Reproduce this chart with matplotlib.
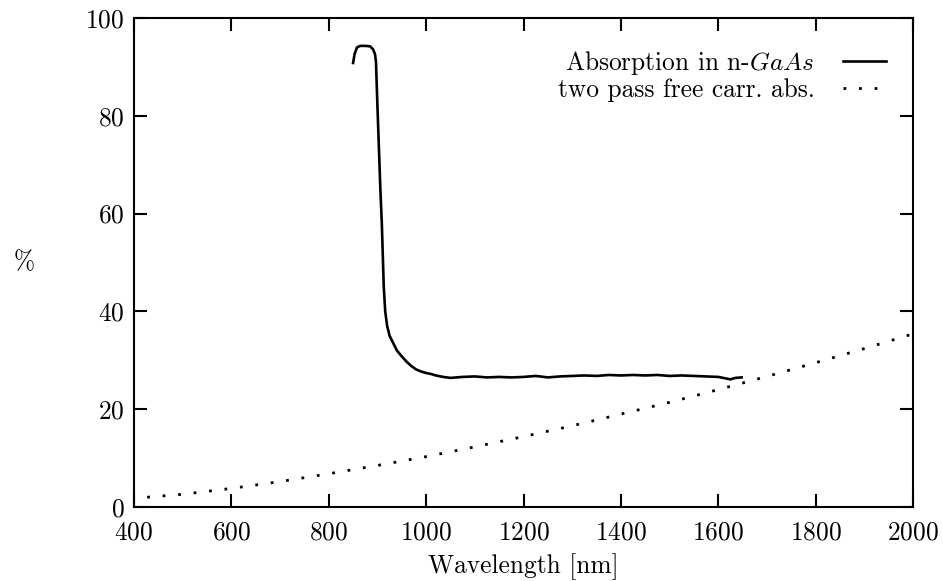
import numpy as np
import matplotlib
matplotlib.use("Agg")
import matplotlib.pyplot as plt

plt.rcParams['font.family'] = 'cmr10'
plt.rcParams['mathtext.fontset'] = 'cm'
plt.rcParams['axes.formatter.use_mathtext'] = True
plt.rcParams['font.size'] = 18.3

wl_abs = [850, 853, 858, 865, 875, 885, 891, 895, 897, 900, 903, 906, 909,
          913, 916, 920, 925, 930, 940, 950, 960, 970, 980, 990, 1000,
          1010, 1020, 1035, 1050, 1075, 1100, 1125, 1150, 1175, 1200,
          1225, 1250, 1275, 1300, 1325, 1350, 1375, 1400, 1425, 1450,
          1475, 1500, 1525, 1550, 1575, 1600, 1615, 1625, 1635, 1648]
abs_pct = [90.8, 92.6, 94.0, 94.3, 94.3, 94.2, 93.6, 92.6, 91.0, 82.0,
           73.5, 65.0, 58.0, 45.0, 40.0, 37.0, 35.0, 34.0, 32.0, 30.8,
           29.7, 28.8, 28.1, 27.7, 27.4, 27.2, 26.9, 26.6, 26.4, 26.6,
           26.7, 26.5, 26.6, 26.5, 26.6, 26.8, 26.5, 26.7, 26.8, 26.9,
           26.8, 27.0, 26.9, 27.0, 26.9, 27.0, 26.8, 26.9, 26.8, 26.7,
           26.6, 26.3, 26.1, 26.4, 26.5]

# two pass free carrier absorption
wl_fc = [427, 500, 600, 700, 800, 900, 1000, 1100, 1200, 1300, 1400,
         1500, 1600, 1700, 1800, 1900, 2000]
fc_pct = [2.0, 2.6, 3.8, 5.2, 6.8, 8.5, 10.3, 12.3, 14.4, 16.6, 19.0,
          21.4, 24.0, 26.7, 29.5, 32.4, 35.4]

xticks = [400, 600, 800, 1000, 1200, 1400, 1600, 1800, 2000]
yticks = [0, 20, 40, 60, 80, 100]

fig = plt.figure(figsize=(9.43, 5.81), dpi=100)
ax = fig.add_axes([134/943, 74/581, (913-134)/943, (507-18)/581])

ax.plot(wl_abs, abs_pct, color='black', lw=1.9, label=r'Absorption in n-$GaAs$')
ax.plot(wl_fc, fc_pct, color='black', lw=2.0, dashes=(1, 4.6),
        dash_capstyle='butt', label='two pass free carr. abs.')

ax.set_xlim(400, 2000)
ax.set_ylim(0, 100)
ax.set_xticks(xticks)
ax.set_yticks(yticks)
ax.tick_params(direction='in', length=9.5, width=1.5, top=True, right=True)
ax.tick_params(axis='x', pad=10)
ax.tick_params(axis='y', pad=7)
for s in ax.spines.values():
    s.set_linewidth(1.5)

ax.set_xlabel('Wavelength [nm]', labelpad=6)
ax.set_ylabel('%', rotation=0, labelpad=44, va='center')

ax.legend(loc='upper right', bbox_to_anchor=(0.965, 0.937), frameon=False,
          markerfirst=False, handlelength=1.7, handletextpad=1.1,
          labelspacing=0.06, borderpad=0, borderaxespad=0)

fig.savefig('out.png', dpi=100)
